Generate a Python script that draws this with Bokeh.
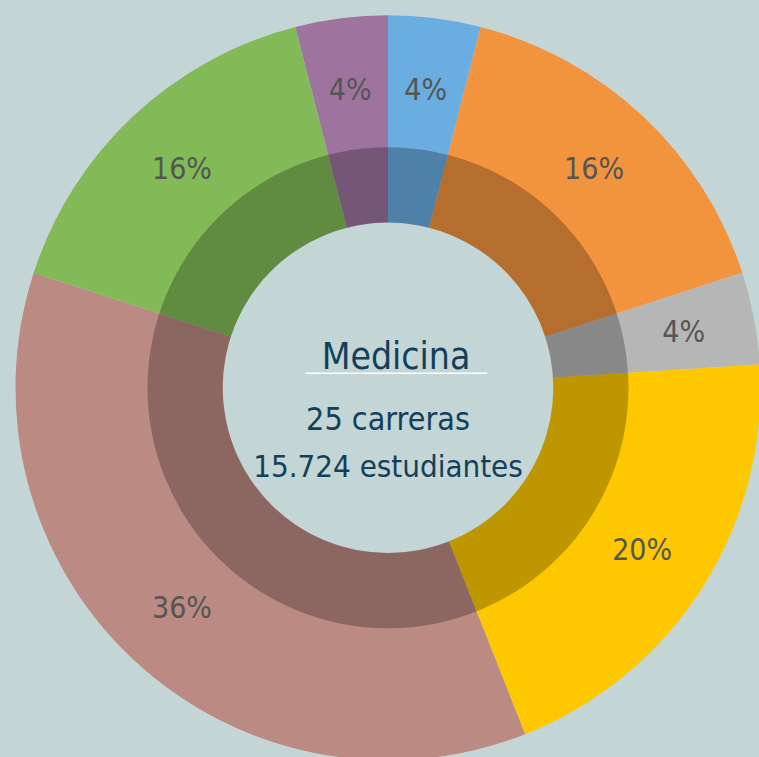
import math
from bokeh.plotting import figure
from bokeh.models import ColumnDataSource, GlobalInlineStyleSheet
from bokeh.core.properties import value
from bokeh.embed import file_html
from bokeh.resources import INLINE

# ---- data ----
categories = ["A", "B", "C", "D", "E", "F", "G"]
carreras = [1, 4, 1, 5, 9, 4, 1]          # 25 carreras in total
percent_labels = ["4%", "16%", "4%", "20%", "36%", "16%", "4%"]
colors = ["#6aade0", "#f2933e", "#b6b6b6", "#fec800", "#bb8a82", "#83ba58", "#9e739e"]
title = "Medicina"
subtitle1 = "25 carreras"
subtitle2 = "15.724 estudiantes"

BG = "#c4d5d6"
FONT = "DejaVu Sans Condensed"

W, H = 759, 757
cx, cy = 387.5, 387.3  # centre of the donut in frame pixels from left/top

p = figure(width=W, height=H, output_backend="svg", toolbar_location=None,
           x_range=(-cx, W - cx), y_range=(-(H - cy), cy),
           min_border=0, background_fill_color=BG, border_fill_color=BG)
p.axis.visible = False
p.grid.visible = False
p.outline_line_color = None
p.stylesheets = [GlobalInlineStyleSheet(css=f"body{{background:{BG};margin:0;overflow:hidden;}}")]

total = sum(carreras)
starts, ends, mids = [], [], []
acc = 0.0
for v in carreras:
    a0 = math.pi / 2 - 2 * math.pi * acc / total
    acc += v
    a1 = math.pi / 2 - 2 * math.pi * acc / total
    starts.append(a0)
    ends.append(a1)
    mids.append((a0 + a1) / 2)

R_HOLE, R_INNER, R_OUTER, R_LABEL = 165.3, 240.5, 372.5, 301

src = ColumnDataSource(dict(cat=categories, start=starts, end=ends, color=colors,
                            lx=[R_LABEL * math.cos(m) for m in mids],
                            ly=[R_LABEL * math.sin(m) for m in mids],
                            label=percent_labels))

p.annular_wedge(x=0, y=0, inner_radius=R_HOLE, outer_radius=R_OUTER,
                start_angle="start", end_angle="end", direction="clock",
                fill_color="color", line_color=None, source=src)
# darker inner ring
p.annulus(x=0, y=0, inner_radius=R_HOLE, outer_radius=R_INNER,
          fill_color="black", fill_alpha=0.25, line_color=None)

p.text(x="lx", y="ly", text="label", source=src, text_align="center",
       text_baseline="middle", text_font=value(FONT), text_font_size="30px",
       text_color="#555555")

NAVY = "#12405a"
p.text(x=[8], y=[31], text=[title], text_align="center", text_baseline="alphabetic",
       text_font=value(FONT), text_font_size="37px", text_color=NAVY)
p.segment(x0=[-82.5], y0=[14.6], x1=[99.2], y1=[14.6], line_color="white", line_width=1.5)
p.text(x=[0], y=[-30.7], text=[subtitle1], text_align="center", text_baseline="alphabetic",
       text_font=value(FONT), text_font_size="32px", text_color=NAVY)
p.text(x=[0], y=[-78.4], text=[subtitle2], text_align="center", text_baseline="alphabetic",
       text_font=value(FONT), text_font_size="31px", text_color=NAVY)

open("out.html", "w").write(file_html(p, INLINE))
